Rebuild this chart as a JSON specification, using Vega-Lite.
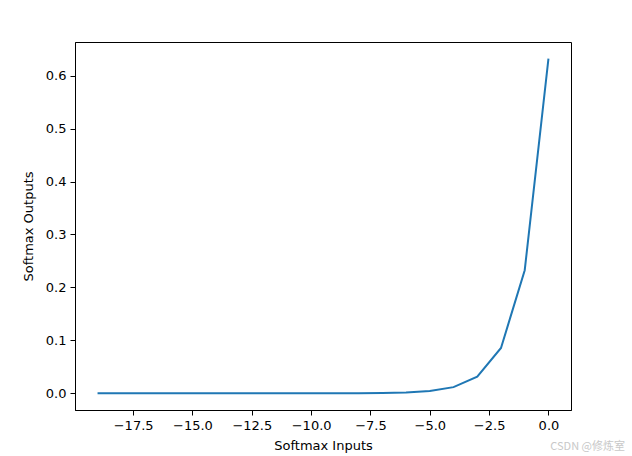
{
  "$schema": "https://vega.github.io/schema/vega-lite/v6.json",
  "width": 496,
  "height": 368,
  "autosize": {"type": "none"},
  "padding": {"left": 75, "top": 42, "right": 61, "bottom": 46},
  "background": "white",
  "config": {
    "font": "DejaVu Sans",
    "view": {"stroke": "black", "strokeWidth": 1},
    "axis": {
      "grid": false,
      "domainColor": "black",
      "domainWidth": 1,
      "tickColor": "black",
      "tickSize": 5,
      "tickWidth": 1,
      "labelColor": "black",
      "labelFontSize": 13,
      "labelFont": "DejaVu Sans",
      "labelPadding": 4,
      "titleColor": "black",
      "titleFontSize": 13,
      "titleFont": "DejaVu Sans",
      "titleFontWeight": "normal"
    }
  },
  "title": {
    "text": "CSDN @修炼室",
    "orient": "bottom",
    "anchor": "end",
    "color": "#c8c8c8",
    "fontSize": 11,
    "fontWeight": "normal",
    "font": "Noto Sans CJK SC",
    "dx": 54,
    "offset": -11
  },
  "data": {
    "values": [
      {"x": -19, "y": 0.0000000},
      {"x": -18, "y": 0.0000000},
      {"x": -17, "y": 0.0000001},
      {"x": -16, "y": 0.0000001},
      {"x": -15, "y": 0.0000002},
      {"x": -14, "y": 0.0000005},
      {"x": -13, "y": 0.0000014},
      {"x": -12, "y": 0.0000039},
      {"x": -11, "y": 0.0000106},
      {"x": -10, "y": 0.0000287},
      {"x": -9, "y": 0.0000780},
      {"x": -8, "y": 0.000212},
      {"x": -7, "y": 0.000576},
      {"x": -6, "y": 0.001567},
      {"x": -5, "y": 0.004259},
      {"x": -4, "y": 0.011578},
      {"x": -3, "y": 0.031471},
      {"x": -2, "y": 0.085548},
      {"x": -1, "y": 0.232544},
      {"x": 0, "y": 0.632121}
    ]
  },
  "mark": {"type": "line", "color": "#1f77b4", "strokeWidth": 2},
  "encoding": {
    "x": {
      "field": "x",
      "type": "quantitative",
      "scale": {"domain": [-19.95, 0.95], "nice": false, "zero": false},
      "axis": {"values": [-17.5, -15, -12.5, -10, -7.5, -5, -2.5, 0], "format": ".1f", "title": "Softmax Inputs", "titlePadding": 7}
    },
    "y": {
      "field": "y",
      "type": "quantitative",
      "scale": {"domain": [-0.0316, 0.6637], "nice": false, "zero": false},
      "axis": {"values": [0, 0.1, 0.2, 0.3, 0.4, 0.5, 0.6], "format": ".1f", "title": "Softmax Outputs", "titlePadding": 10}
    }
  }
}
